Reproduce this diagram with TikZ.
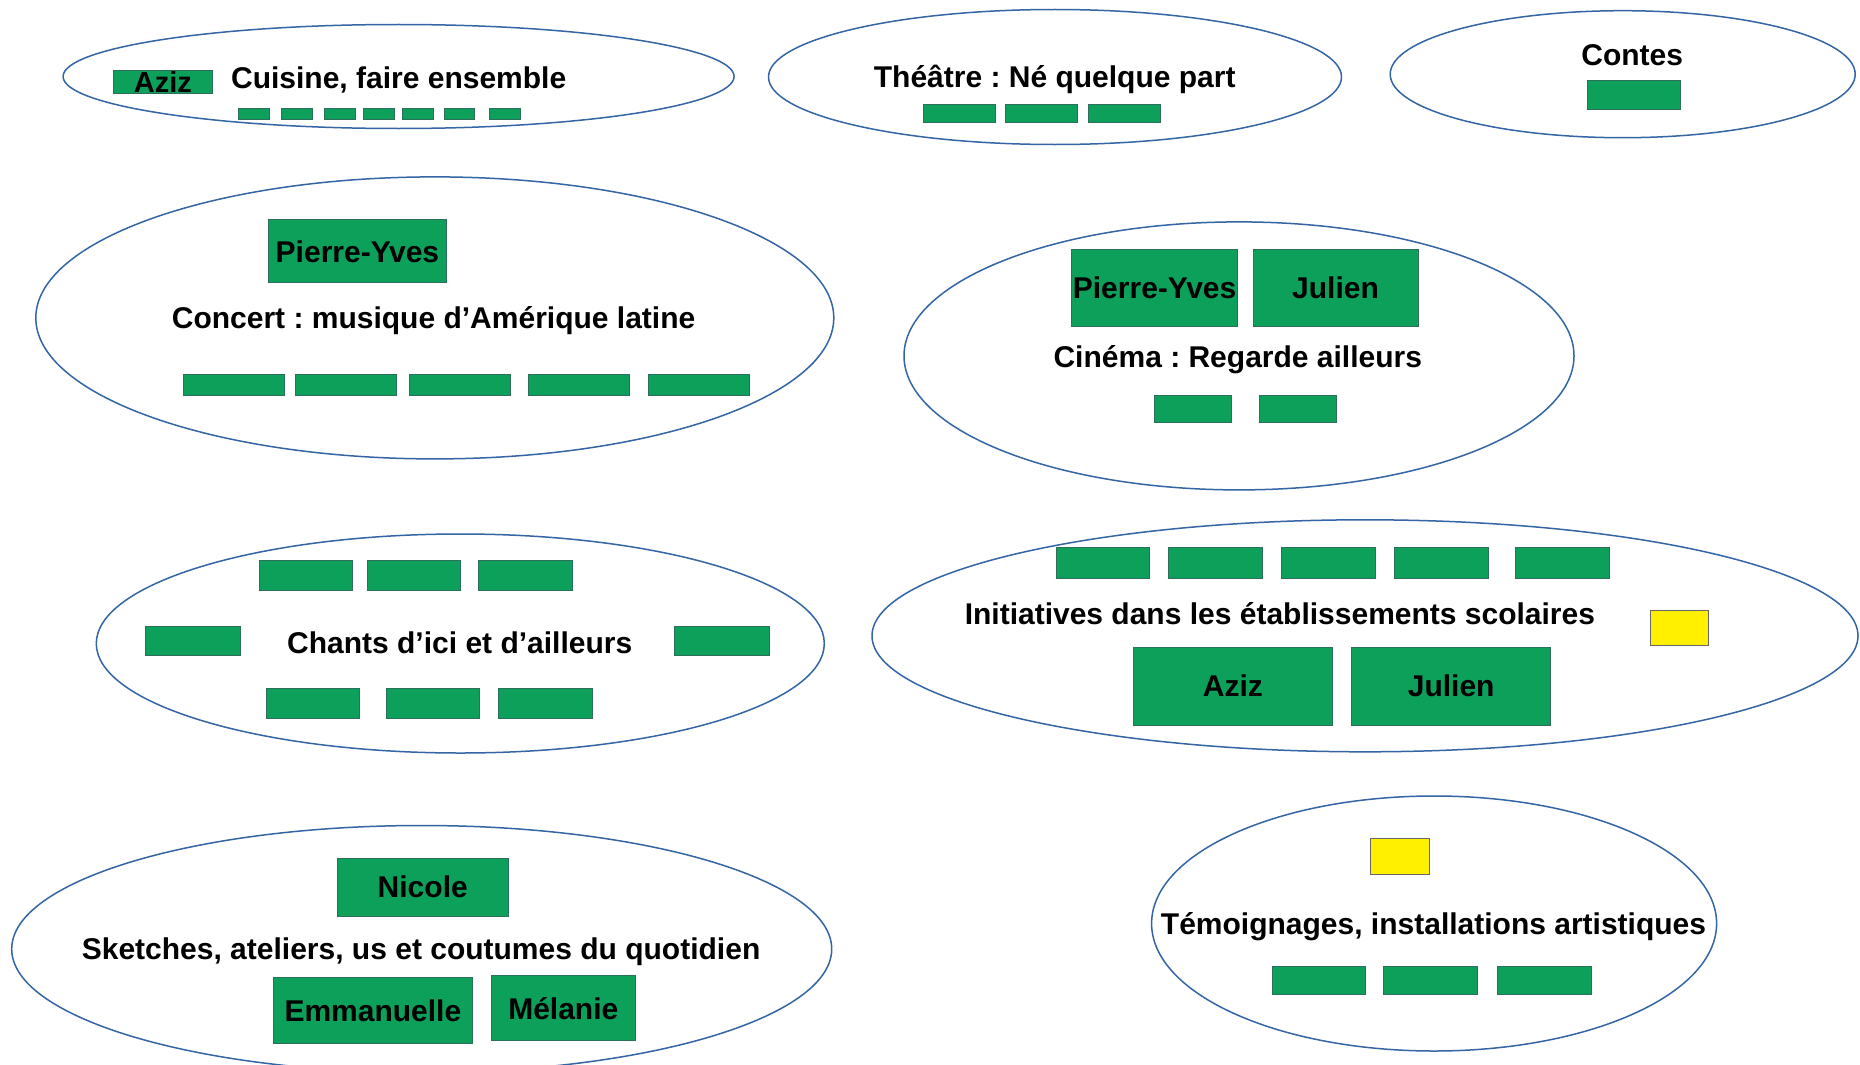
\documentclass[tikz,border=0pt]{standalone}
\usepackage{fontspec}
\setmainfont{Liberation Sans}
\usetikzlibrary{shapes.geometric}
\definecolor{ellblue}{RGB}{52,101,164}
\definecolor{boxgreen}{RGB}{12,160,90}
\definecolor{boxedge}{RGB}{45,110,92}
\definecolor{boxyellow}{RGB}{255,240,0}
\newcommand\bx[6][]{\node[gbox,#1,anchor=north west,minimum width=#4pt,minimum height=#5pt] (#2) at (#3) {#6};}
\frenchspacing
\begin{document}
\begin{tikzpicture}[x=1pt,y=-1pt,
  ell/.style={draw=ellblue,line width=1.5pt,ellipse,inner sep=0pt},
  gbox/.style={draw=boxedge,fill=boxgreen,line width=0.9pt,inner sep=0pt,rectangle,
    font=\fontsize{30}{36}\selectfont\bfseries,text=black},
  ybox/.style={fill=boxyellow,draw=black!60},
  ttl/.style={font=\fontsize{30}{36}\selectfont\bfseries,text=black,anchor=base,inner sep=0pt}]
\fill[white] (0,0) rectangle (1860,1065);
\useasboundingbox (0,0) rectangle (1860,1065);
\clip (0,0) rectangle (1860,1065);
% ellipses
\node[ell,minimum width=671pt,minimum height=104pt] (eCuisine) at (398.6,76.5) {};
\node[ell,minimum width=573pt,minimum height=135pt] (eTheatre) at (1055,77) {};
\node[ell,minimum width=465pt,minimum height=127pt] (eContes) at (1622.7,74.2) {};
\node[ell,minimum width=798pt,minimum height=282pt] (eConcert) at (434.8,317.9) {};
\node[ell,minimum width=670pt,minimum height=268pt] (eCinema) at (1239,355.9) {};
\node[ell,minimum width=728pt,minimum height=219pt] (eChants) at (460.3,643.5) {};
\node[ell,minimum width=986pt,minimum height=232pt] (eInit) at (1365,635.8) {};
\node[ell,minimum width=820pt,minimum height=247pt] (eSketch) at (421.7,949) {};
\node[ell,minimum width=565pt,minimum height=255pt] (eTemoin) at (1434.1,923.5) {};
% Cuisine
\bx[font=\fontsize{29}{34}\selectfont\bfseries]{cAziz}{112.7,70}{99.6}{22.5}{\raisebox{-2pt}{Aziz}}
\bx{c1}{238,108}{31}{11}{}
\bx{c2}{281,108}{31}{11}{}
\bx{c3}{324,108}{31}{11}{}
\bx{c4}{363,108}{31}{11}{}
\bx{c5}{402,108}{31}{11}{}
\bx{c6}{444,108}{30}{11}{}
\bx{c7}{489,108}{31}{11}{}
\node[ttl] (tCuisine) at (398.7,88.5) {Cuisine, faire ensemble};
% Theatre
\bx{t1}{922.9,104.4}{72.3}{17.8}{}
\bx{t2}{1004.7,104.4}{72.3}{17.8}{}
\bx{t3}{1087.8,104.4}{72.3}{17.8}{}
\node[ttl] (tTheatre) at (1054.7,87.8) {Théâtre : Né quelque part};
% Contes
\bx{k1}{1587.2,79.5}{92.5}{29.6}{}
\node[ttl] (tContes) at (1632.2,65.3) {Contes};
% Concert
\bx{pPY}{268,219.4}{178}{62.9}{Pierre-Yves}
\bx{p1}{182.7,373.7}{100.8}{21.3}{}
\bx{p2}{295.4,373.7}{100.8}{21.3}{}
\bx{p3}{409.2,373.7}{100.8}{21.3}{}
\bx{p4}{527.9,373.7}{100.8}{21.3}{}
\bx{p5}{647.7,373.7}{100.8}{21.3}{}
\node[ttl] (tConcert) at (433.6,328.6) {Concert : musique d’Amérique latine};
% Cinema
\bx{mPY}{1071.1,249.1}{166.1}{77.1}{Pierre-Yves}
\bx{mJ}{1252.6,249.1}{164.9}{77.1}{Julien}
\bx{m1}{1154.2,395}{77.1}{27.3}{}
\bx{m2}{1258.6,395}{77.1}{27.3}{}
\node[ttl] (tCinema) at (1237.8,367.8) {Cinéma : Regarde ailleurs};
% Chants
\bx{h1}{258.6,559.9}{93.7}{29.6}{}
\bx{h2}{366.5,559.9}{93.7}{29.6}{}
\bx{h3}{478,559.9}{93.7}{29.6}{}
\bx{hL}{144.7,626.3}{94.9}{28.5}{}
\bx{hR}{673.8,626.3}{94.9}{28.5}{}
\bx{h4}{265.7,688}{93.7}{29.7}{}
\bx{h5}{385.5,688}{93.7}{29.7}{}
\bx{h6}{498.2,688}{93.7}{29.7}{}
\node[ttl] (tChants) at (459.7,653.6) {Chants d’ici et d’ailleurs};
% Initiatives
\bx{i1}{1055.7,546.8}{93.7}{30.9}{}
\bx{i2}{1168.4,546.8}{93.7}{30.9}{}
\bx{i3}{1281.1,546.8}{93.7}{30.9}{}
\bx{i4}{1393.8,546.8}{93.7}{30.9}{}
\bx{i5}{1514.8,546.8}{93.7}{30.9}{}
\bx[ybox]{iY}{1650,609.7}{58.1}{35.6}{}
\bx{iA}{1132.8,646.5}{199.3}{78.3}{Aziz}
\bx{iJ}{1351.1,646.5}{199.3}{78.3}{Julien}
\node[ttl] (tInit) at (1279.9,624) {Initiatives dans les établissements scolaires};
% Sketches
\bx{sN}{336.9,857.6}{170.8}{58.2}{Nicole}
\bx{sE}{272.8,977.4}{199.3}{65.3}{Emmanuelle}
\bx{sM}{491.1,975.1}{143.5}{65.2}{Mélanie}
\node[ttl] (tSketch) at (421.1,959.7) {Sketches, ateliers, us et coutumes du quotidien};
% Temoignages
\bx[ybox]{wY}{1370,837.5}{59.4}{36.7}{}
\bx{w1}{1271.6,965.6}{93.7}{28.4}{}
\bx{w2}{1383.1,965.6}{93.7}{28.4}{}
\bx{w3}{1497,965.6}{93.7}{28.4}{}
\node[ttl] (tTemoin) at (1433.5,934.7) {Témoignages, installations artistiques};
\end{tikzpicture}
\end{document}
